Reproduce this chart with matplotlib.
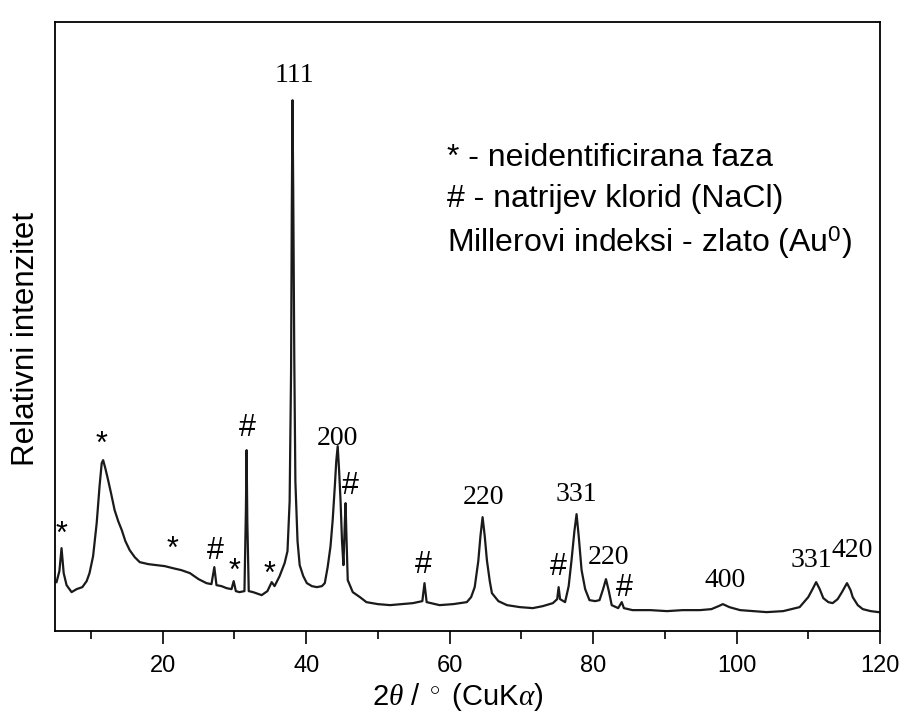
import matplotlib
matplotlib.use("Agg")
import matplotlib.pyplot as plt

# --------------------------------------------------
# DATA
# --------------------------------------------------

two_theta = [
    5.2, 5.6, 5.9, 6.2, 6.6, 7.3, 8.0, 8.8, 9.4, 9.8, 10.3, 10.8, 11.2, 11.5,
    11.7, 12.0, 12.3, 12.8, 13.3, 13.8, 14.3, 14.8, 15.4, 16.1, 16.8, 18.0,
    19.2, 20.3, 21.4, 22.6, 23.8, 25.0, 26.1, 26.8, 27.2, 27.5, 28.2, 28.9,
    29.6, 29.9, 30.2, 30.7, 31.4, 31.6, 31.7, 31.8, 32.0, 32.6, 33.8, 34.6,
    35.2, 35.6, 36.3, 37.0, 37.4, 37.7, 37.9, 38.0, 38.1, 38.2, 38.35, 38.5,
    38.8, 39.1, 39.6, 40.1, 40.8, 41.5, 42.2, 42.6, 43.0, 43.4, 43.7, 44.0,
    44.2, 44.4, 44.6, 44.8, 45.0, 45.2, 45.4, 45.5, 45.6, 45.8, 46.5, 47.5,
    48.4, 50.0, 51.7, 53.3, 54.9, 56.2, 56.5, 56.8, 58.6, 60.5, 62.4, 63.0,
    63.5, 64.0, 64.3, 64.6, 64.9, 65.2, 65.6, 65.9, 66.8, 68.0, 69.8, 71.6,
    73.0, 74.4, 75.0, 75.2, 75.4, 76.1, 76.6, 77.0, 77.4, 77.7, 78.0, 78.4,
    78.9, 79.5, 80.3, 80.9, 81.4, 81.8, 82.2, 82.6, 83.5, 84.0, 84.3, 85.5,
    88.0, 90.3, 92.5, 94.9, 96.5, 97.5, 98.1, 99.0, 100.5, 102.4, 104.2,
    106.5, 108.8, 110.0, 110.6, 111.1, 111.6, 112.1, 112.8, 113.4, 114.1,
    114.7, 115.4, 115.9, 116.2, 116.9, 117.6, 118.7, 119.8,
]

intensity = [
    49, 60, 83, 58, 46, 39, 42, 44, 50, 58, 75, 108, 145, 168,
    171, 163, 154, 138, 121, 110, 101, 90, 81, 74, 69, 67,
    66, 65, 63, 61, 58, 52, 48, 47, 64, 46, 45, 43,
    42, 50, 40, 39, 40, 120, 181, 110, 40, 39, 36, 40,
    49, 45, 55, 68, 80, 130, 260, 420, 531, 440, 270, 150,
    90, 66, 55, 48, 45, 44, 45, 48, 64, 85, 111, 145,
    170, 185, 160, 130, 90, 66, 110, 128, 100, 51, 39, 34,
    29, 27, 26, 27, 28, 30, 48, 29, 26, 27, 29, 34,
    44, 70, 95, 114, 95, 71, 50, 38, 30, 26, 24, 23,
    25, 28, 32, 44, 32, 29, 45, 71, 100, 117, 95, 61,
    42, 31, 30, 31, 42, 52, 40, 26, 23, 29, 23, 21,
    21, 20, 21, 21, 22, 25, 27, 24, 21, 20, 19,
    20, 24, 34, 42, 49, 42, 33, 29, 28, 32,
    39, 48, 41, 34, 26, 22, 20, 19,
]

# phase markers: * unidentified, # NaCl
marker_text = ["*", "*", "*", "#", "*", "*", "#", "#", "#", "#", "#"]
marker_x = [5.9, 11.5, 21.4, 27.4, 30.0, 34.9, 31.8, 46.1, 56.4, 75.2, 84.4]
marker_y = [96, 186, 81, 80, 59, 56, 203, 145, 66, 64, 43]

# Miller indices of gold
hkl_text = ["111", "200", "220", "331", "220", "400", "331", "420"]
hkl_x = [38.3, 44.3, 64.7, 77.7, 82.2, 98.4, 110.4, 116.1]
hkl_y = [556, 193, 134, 137, 74, 51, 71, 81]

legend_lines = [
    "* - neidentificirana faza",
    "# - natrijev klorid (NaCl)",
    "Millerovi indeksi - zlato (Au$^{0}$)",
]
legend_y = [0.777, 0.709, 0.639]

# --------------------------------------------------
# PLOT
# --------------------------------------------------

plt.rcParams["font.family"] = ["Liberation Sans", "DejaVu Sans"]
plt.rcParams["mathtext.fontset"] = "custom"
plt.rcParams["mathtext.rm"] = "Liberation Sans"
plt.rcParams["mathtext.it"] = "Liberation Serif:italic"

fig = plt.figure(figsize=(9.03, 7.18), dpi=100)
ax = fig.add_axes([0.061, 0.121, 0.9135, 0.848])

ax.plot(two_theta, intensity, color="#1a1a1a", lw=1.6)

for t, x, y in zip(marker_text, marker_x, marker_y):
    ax.text(x, y, t, ha="center", va="center", fontsize=22)

for t, x, y in zip(hkl_text, hkl_x, hkl_y):
    ax.text(x, y, t, ha="center", va="center", fontsize=20,
            family="Liberation Serif")

for line, y in zip(legend_lines, legend_y):
    ax.text(0.475, y, line, transform=ax.transAxes,
            ha="left", va="center", fontsize=23)

ax.set_xlim(5, 120)
ax.set_ylim(0, 609)
ax.set_xticks([20, 40, 60, 80, 100, 120])
ax.set_xticks([10, 30, 50, 70, 90, 110], minor=True)
ax.set_yticks([])
ax.tick_params(axis="x", which="major", direction="out", length=9,
               width=1.2, labelsize=17, pad=8)
ax.tick_params(axis="x", which="minor", direction="out", length=6, width=1.2)
for s in ax.spines.values():
    s.set_linewidth(1.3)

ax.set_xlabel(r"2$\mathit{\theta}$ / $^\circ$ (CuK$\mathit{\alpha}$)",
              fontsize=21)
ax.xaxis.set_label_coords(0.488, -0.082)
ax.set_ylabel("Relativni intenzitet", fontsize=22.5)
ax.yaxis.set_label_coords(-0.017, 0.48)

fig.savefig("out.png", dpi=100)
plt.close(fig)
